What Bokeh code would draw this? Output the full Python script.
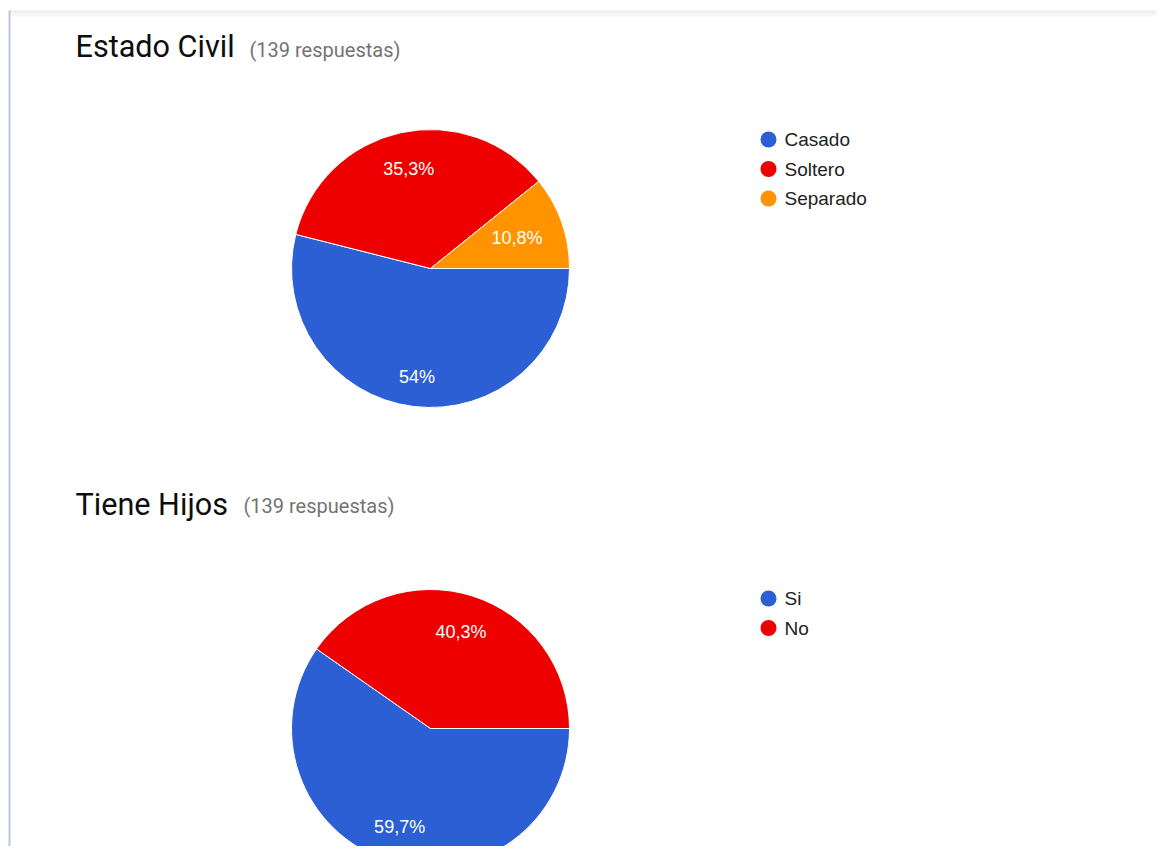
import math
from bokeh.plotting import figure
from bokeh.models import Range1d, ColumnDataSource
from bokeh.core.properties import value
from bokeh.embed import file_html
from bokeh.resources import INLINE

# ---------------- data ----------------
chart1_title = "Estado Civil"
chart1_sub = "(139 respuestas)"
chart1_labels = ["Casado", "Soltero", "Separado"]
chart1_values = [54.0, 35.3, 10.8]

chart2_title = "Tiene Hijos"
chart2_sub = "(139 respuestas)"
chart2_labels = ["Si", "No"]
chart2_values = [59.7, 40.3]

# ---------------- style ----------------
BLUE = "#2c5fd4"
RED = "#ee0000"
ORANGE = "#ff9400"
chart1_colors = [BLUE, RED, ORANGE]
chart2_colors = [BLUE, RED]
chart1_label_r = [0.79, 0.73, 0.66]
chart2_label_r = [0.74, 0.73]

W, H = 1156, 846


def sx(x):
    return x


def sy(y):
    return H - y


p = figure(width=W, height=H, output_backend="svg", toolbar_location=None,
           x_range=Range1d(0, W), y_range=Range1d(0, H),
           min_border=0, background_fill_color="white",
           border_fill_color="white")
p.axis.visible = False
p.grid.visible = False
p.outline_line_color = None

# card frame: top shadow and left border
for (y0, y1, c) in [(10, 11, "#e8e8e8"), (11, 13, "#f0f0f0"), (13, 16, "#f7f7f7")]:
    p.quad(left=sx(9), right=sx(1180), top=sy(y0), bottom=sy(y1),
           fill_color=c, line_color=None)
p.quad(left=sx(8), right=sx(10), top=sy(10), bottom=sy(880),
       fill_color="#b8c8db", line_color=None)


def pie(cx, cy, r, labels, vals, colors, label_r, title, sub,
        title_xy, sub_xy, legend_xy):
    total = sum(vals)
    cum = [0.0]
    for v in vals:
        cum.append(cum[-1] + v / total)
    starts, ends, lx, ly, txt = [], [], [], [], []
    for i, v in enumerate(vals):
        a0 = 2 * math.pi * cum[i]
        a1 = 2 * math.pi * cum[i + 1]
        starts.append(-a1)
        ends.append(-a0)
        mid = -(a0 + a1) / 2
        lx.append(cx + r * label_r[i] * math.cos(mid))
        ly.append(cy + r * label_r[i] * math.sin(mid))
        s = f"{v:.1f}".replace(".", ",")
        if s.endswith(",0"):
            s = s[:-2]
        txt.append(s + "%")
    src = ColumnDataSource(dict(start=starts, end=ends, color=colors,
                                lx=lx, ly=ly, txt=txt))
    p.wedge(x=cx, y=cy, radius=r, start_angle="start", end_angle="end",
            fill_color="color", line_color="white", line_width=1, source=src)
    p.text(x="lx", y="ly", text="txt", source=src, text_color="white",
           text_font=value("Liberation Sans"), text_font_size="18px",
           text_align="center", text_baseline="middle")
    # title
    p.text(x=[title_xy[0]], y=[title_xy[1]], text=[title], text_color="#0d0d0d",
           text_font=value("Roboto"), text_font_size="30.6px",
           text_align="left", text_baseline="middle")
    p.text(x=[sub_xy[0]], y=[sub_xy[1]], text=[sub], text_color="#737373",
           text_font=value("Roboto"), text_font_size="20px",
           text_align="left", text_baseline="middle")
    # legend
    lgx, lgy = legend_xy
    ys = [lgy - 29.5 * i for i in range(len(labels))]
    p.scatter(x=[lgx] * len(labels), y=ys, size=16, marker="circle",
              fill_color=colors, line_color=None)
    p.text(x=[lgx + 16] * len(labels), y=ys, text=labels, text_color="#222222",
           text_font=value("Liberation Sans"), text_font_size="19px",
           text_align="left", text_baseline="middle")


pie(sx(430), sy(268), 139, chart1_labels, chart1_values, chart1_colors,
    chart1_label_r, chart1_title, chart1_sub, (sx(75), sy(46)),
    (sx(249), sy(49.5)), (sx(768), sy(139)))
pie(sx(430), sy(728), 139, chart2_labels, chart2_values, chart2_colors,
    chart2_label_r, chart2_title, chart2_sub, (sx(75), sy(503.5)),
    (sx(243), sy(505.5)), (sx(768), sy(598)))

open("out.html", "w").write(file_html(p, INLINE))
